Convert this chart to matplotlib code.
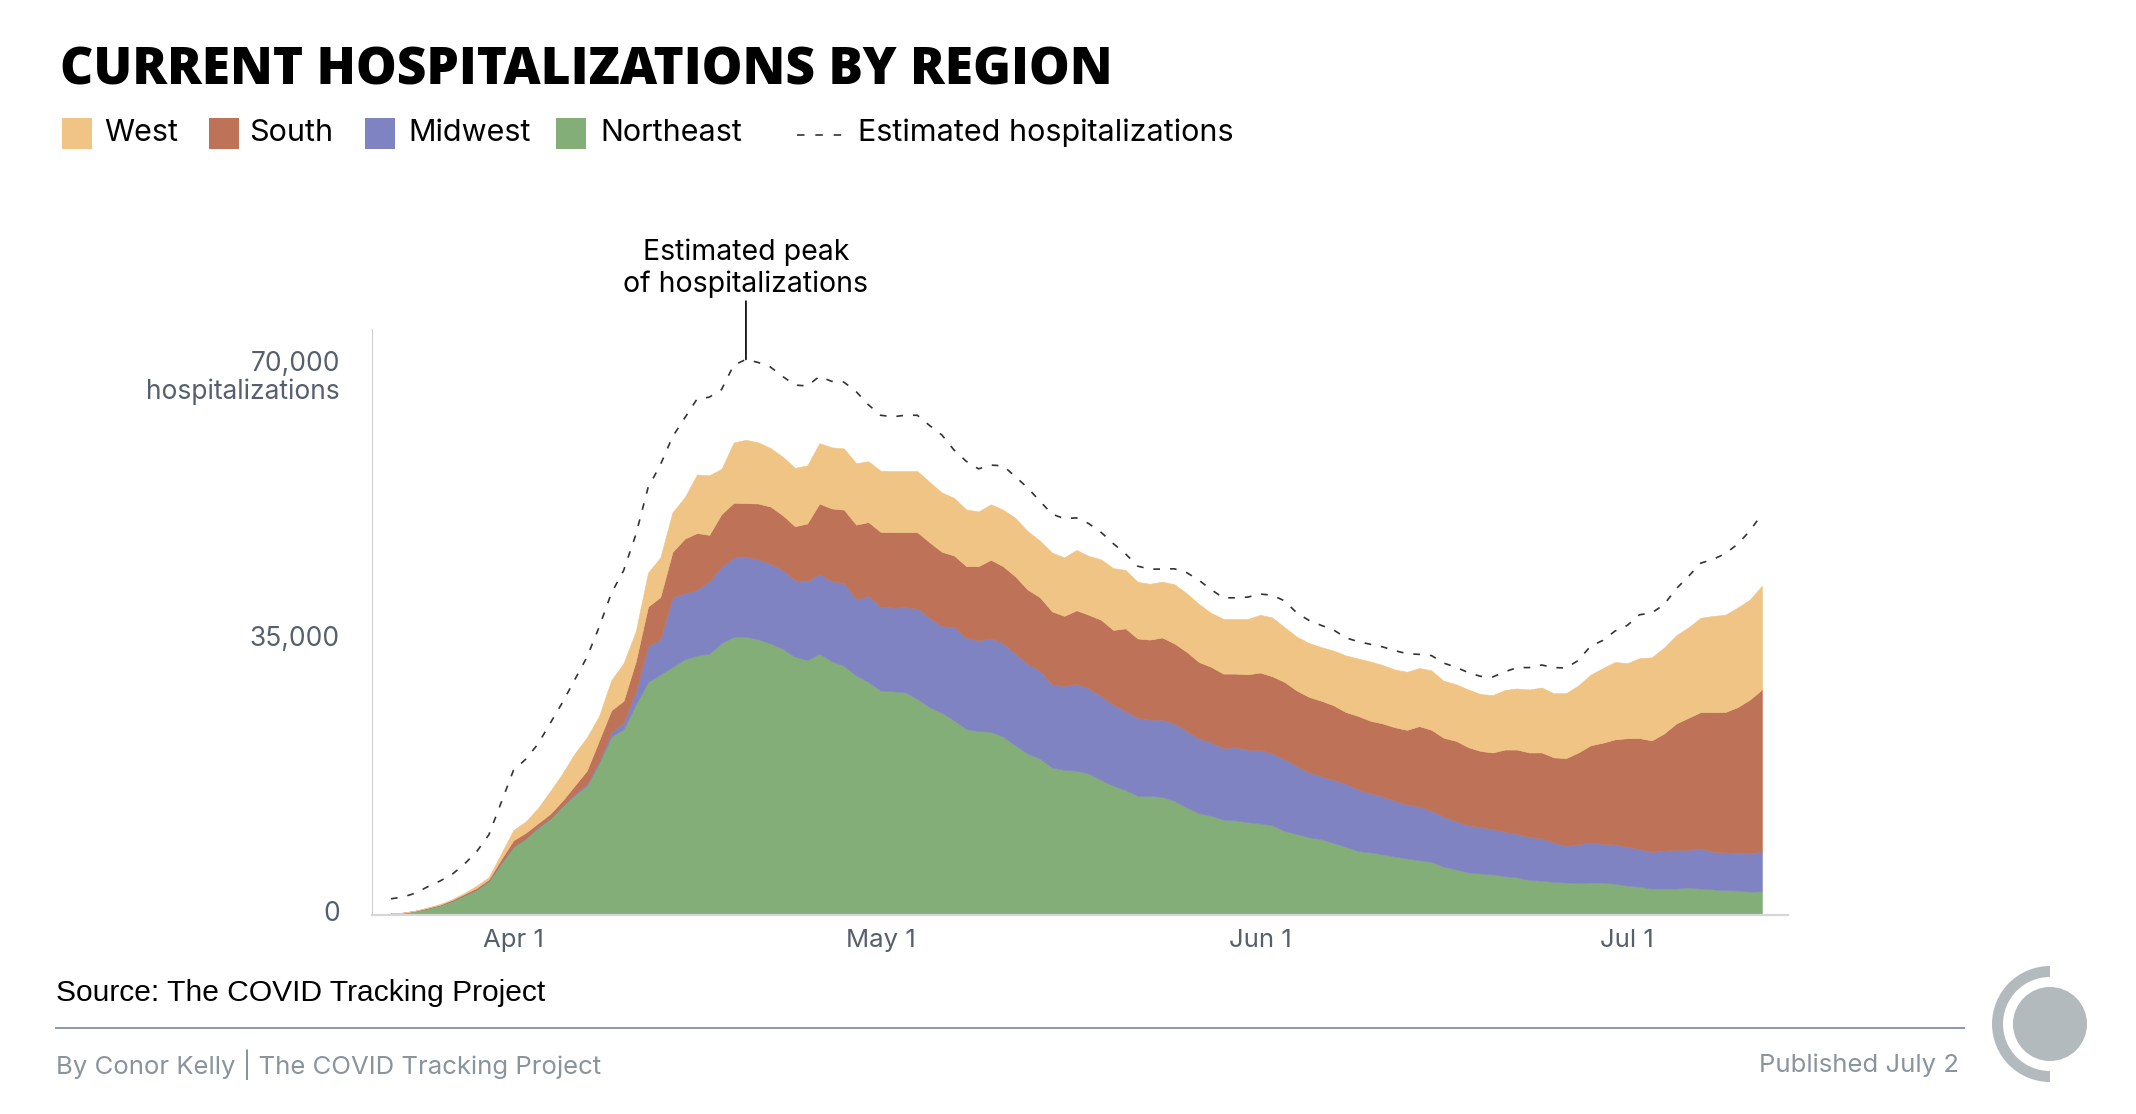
import datetime as dt

import matplotlib
matplotlib.use("Agg")
import matplotlib.dates as mdates
import matplotlib.pyplot as plt
import numpy as np
from matplotlib.lines import Line2D
from matplotlib.patches import Circle, Rectangle, Wedge
from matplotlib.transforms import IdentityTransform, ScaledTranslation, blended_transform_factory

# ---- data (daily from Mar 22) ----
start_date = dt.date(2020, 3, 22)

northeast = [
    240, 290, 530, 860, 1250, 1820, 2540, 3260, 4370, 6620,
    8690, 9740, 11090, 12240, 13820, 15260, 16460, 19340, 22700, 23660,
    26780, 29660, 30620, 31580, 32540, 33020, 33260, 34610, 35420, 35420,
    35090, 34560, 33890, 32880, 32450, 33260, 32300, 31730, 30480, 29660,
    28560, 28460, 28370, 27500, 26450, 25730, 24770, 23660, 23420, 23330,
    22700, 21600, 20540, 19920, 18770, 18480, 18380, 18000, 17180, 16460,
    15890, 15170, 15170, 15020, 14540, 13680, 12960, 12620, 12140, 12050,
    11810, 11660, 11420, 10700, 10320, 9890, 9650, 9170, 8690, 8160,
    7970, 7730, 7440, 7200, 6960, 6770, 6140, 5810, 5420, 5280,
    5180, 4940, 4800, 4460, 4370, 4220, 4130, 4080, 4130, 4130,
    3980, 3740, 3600, 3360, 3360, 3360, 3500, 3360, 3260, 3170,
    3120, 2980, 3020,
]
midwest = [
    0, 0, 0, 0, 0, 0, 0, 0, 50, 50,
    50, 50, 100, 100, 140, 140, 240, 240, 580, 860,
    1680, 4560, 4460, 8880, 8400, 8400, 9220, 9700, 10080, 10180,
    10180, 10130, 10030, 9740, 10030, 10180, 10180, 10510, 9740, 10940,
    10700, 10660, 10800, 11520, 11380, 11040, 11860, 11620, 11520, 11900,
    11900, 11660, 11420, 11180, 10560, 10660, 11040, 10850, 10700, 10320,
    10080, 9940, 9700, 9840, 9840, 9740, 9500, 9360, 9120, 9310,
    9220, 9360, 9120, 9120, 8640, 8260, 8020, 8020, 8020, 7820,
    7540, 7390, 7100, 6860, 6860, 6480, 6380, 6140, 6000, 5900,
    5760, 5660, 5520, 5470, 5380, 5040, 4660, 4940, 5090, 4940,
    4990, 4940, 4800, 4660, 4850, 4940, 4800, 5090, 4800, 4800,
    4800, 4850, 5040,
]
south = [
    0, 0, 0, 50, 50, 100, 140, 190, 140, 430,
    770, 670, 480, 530, 580, 1060, 1680, 2640, 2780, 2740,
    3840, 5040, 5380, 5760, 6960, 7200, 5900, 6720, 6960, 6820,
    7100, 7300, 6960, 6860, 7340, 8930, 9260, 9360, 9460, 9410,
    9500, 9600, 9550, 9700, 9600, 9460, 9120, 9120, 9460, 9980,
    9790, 9840, 9460, 9360, 9310, 8930, 9360, 9360, 9700, 9500,
    10510, 10080, 10180, 10460, 10180, 10080, 9740, 9600, 9460, 9360,
    9600, 9840, 9840, 9840, 9600, 9600, 9600, 9500, 9120, 9360,
    9220, 9260, 9360, 9500, 10220, 10320, 10030, 10220, 9940, 9700,
    9740, 10460, 10730, 10750, 10940, 10800, 11180, 11660, 12380, 12860,
    13390, 13820, 14110, 14210, 14880, 16080, 16800, 17380, 17760, 17860,
    18530, 19580, 20640,
]
west = [
    0, 0, 50, 50, 100, 100, 140, 290, 290, 720,
    1300, 1440, 1920, 2880, 3460, 4080, 4220, 3120, 3840, 4800,
    3840, 4320, 5040, 5040, 5280, 7440, 7580, 5760, 7680, 8060,
    7780, 7440, 7440, 7440, 7390, 7680, 7780, 7780, 7820, 7730,
    7780, 7780, 7780, 7780, 7680, 7540, 7340, 7200, 6960, 7060,
    7200, 7440, 7440, 7200, 7490, 7440, 7680, 7490, 7680, 7870,
    7440, 7200, 7100, 7100, 7540, 7440, 7390, 6860, 6960, 6960,
    7060, 7340, 7490, 6960, 6860, 6860, 6820, 6960, 7200, 7300,
    7540, 7440, 7340, 7390, 7390, 7560, 7250, 7200, 7340, 7250,
    7300, 7580, 7780, 8020, 8260, 8160, 8260, 8540, 8980, 9500,
    9840, 9550, 10180, 10560, 10940, 11230, 11520, 12000, 12240, 12380,
    12670, 12720, 13200,
]
estimated = [
    2060, 2300, 2780, 3600, 4320, 5180, 6480, 8060, 10220, 14300,
    18380, 19820, 21740, 24380, 27020, 29900, 32780, 36620, 40940, 43820,
    48380, 54380, 57260, 60860, 63260, 65660, 65900, 66860, 69980, 70700,
    70320, 69740, 68540, 67440, 67340, 68540, 67920, 67820, 66620, 64940,
    63600, 63410, 63600, 63600, 62300, 61100, 59180, 57740, 56780, 57260,
    57170, 55820, 54380, 52700, 51020, 50450, 50540, 49820, 48720, 47280,
    45980, 44400, 44020, 44020, 44060, 43580, 42620, 41420, 40370, 40370,
    40460, 40850, 40700, 39980, 38450, 37490, 36860, 36290, 35280, 34800,
    34460, 34130, 33650, 33260, 33170, 33020, 32060, 31540, 30860, 30380,
    30290, 30960, 31490, 31490, 31820, 31490, 31440, 32400, 34220, 34940,
    36140, 36860, 38210, 38450, 39500, 41520, 43100, 44780, 45260, 45980,
    47180, 48860, 51020,
]

region_names = ["Northeast", "Midwest", "South", "West"]
region_colors = ["#84ae78", "#8083c2", "#be7257", "#f0c484"]
ytick_values = [0, 35000, 70000]
xtick_dates = [dt.date(2020, 4, 1), dt.date(2020, 5, 1), dt.date(2020, 6, 1), dt.date(2020, 7, 1)]
xtick_labels = ["Apr 1", "May 1", "Jun 1", "Jul 1"]
legend_order = ["West", "South", "Midwest", "Northeast"]

# ---- figure ----
W, H = 2136, 1114
plt.rcParams["font.family"] = ["Inter", "DejaVu Sans"]
fig = plt.figure(figsize=(W / 100, H / 100), dpi=100)
fig.patch.set_facecolor("white")


def fx(x):
    return x / W


def fy(y):
    return 1 - y / H


ax = fig.add_axes([fx(372), fy(915), (1788 - 372) / W, (915 - 329) / H])

dates = [start_date + dt.timedelta(days=i) for i in range(len(northeast))]
x = mdates.date2num(dates)

polys = ax.stackplot(x, northeast, midwest, south, west, colors=region_colors, linewidth=0)
for p, c in zip(polys, region_colors):
    p.set_edgecolor(c)
    p.set_linewidth(0.4)

ax.plot(x, estimated, color="#333333", lw=1.2, dashes=(4, 6))

ax.set_xlim(x[0] - 1.55, x[0] + 114.13)
ax.set_ylim(0, 74580)

for side in ["top", "right"]:
    ax.spines[side].set_visible(False)
ax.spines["left"].set_color("#cfcfcf")
ax.spines["left"].set_linewidth(0.8)
ax.spines["bottom"].set_color("#d6d6d6")
ax.spines["bottom"].set_linewidth(1.6)
ax.spines["bottom"].set_zorder(5)

ax.set_xticks(mdates.date2num(xtick_dates))
ax.set_xticklabels(xtick_labels, fontsize=18.5, color="#56606c")
ax.tick_params(axis="x", length=0, pad=10)
ax.set_yticks([])

# y labels, sitting a touch above their value like the original
ytrans = blended_transform_factory(ax.transAxes, ax.transData)
for v in ytick_values:
    ax.text(-0.0226, v, f"{v:,}", transform=ytrans + ScaledTranslation(0, 1 / 100, fig.dpi_scale_trans),
            ha="right", va="center", fontsize=19, color="#56606c")
ax.text(-0.0226, ytick_values[-1], "hospitalizations",
        transform=ytrans + ScaledTranslation(0, -27 / 100, fig.dpi_scale_trans),
        ha="right", va="center", fontsize=19, color="#56606c")

# peak annotation
ipk = int(np.argmax(estimated))
ax.annotate("", xy=(x[ipk], estimated[ipk]), xytext=(0, 42), textcoords="offset points",
            arrowprops=dict(arrowstyle="-", lw=1.2, color="black", shrinkA=0, shrinkB=0),
            annotation_clip=False)
ax.annotate("Estimated peak\nof hospitalizations", xy=(x[ipk], estimated[ipk]), xytext=(0, 65.5),
            textcoords="offset points", ha="center", va="center", fontsize=20.5,
            linespacing=1.2, color="black", annotation_clip=False)

# ---- title and legend ----
fig.text(fx(60), fy(71), "CURRENT HOSPITALIZATIONS BY REGION", fontsize=37,
         family=["Open Sans", "DejaVu Sans"], weight=800, va="center", ha="left", color="black")

sq_left = [62, 209, 365, 556]
txt_left = [104, 249, 408, 600]
for name, sx, tx in zip(legend_order, sq_left, txt_left):
    col = region_colors[region_names.index(name)]
    fig.patches.append(Rectangle((fx(sx), fy(149)), 30 / W, 31 / H, transform=fig.transFigure,
                                 facecolor=col, edgecolor="none"))
    fig.text(fx(tx), fy(133), name, fontsize=22, va="center", ha="left", color="black")
fig.lines.append(Line2D([fx(797), fx(848)], [fy(135), fy(135)], transform=fig.transFigure,
                        color="#333333", lw=1.2, dashes=(4.5, 6.5)))
fig.text(fx(858), fy(133), "Estimated hospitalizations", fontsize=22, va="center", ha="left", color="black")

# ---- footer ----
fig.text(fx(56), fy(993), "Source: The COVID Tracking Project", fontsize=21.6,
         family=["Liberation Sans", "DejaVu Sans"], va="center", ha="left", color="black")
fig.lines.append(Line2D([fx(56), fx(1964)], [fy(1028), fy(1028)], transform=fig.transFigure,
                        color="#8c99ab", lw=1.4))
fig.text(fx(56), fy(1065), "By Conor Kelly | The COVID Tracking Project", fontsize=18.5,
         va="center", ha="left", color="#8a949c")
fig.text(fx(1959), fy(1065), "Published July 2", fontsize=18.5,
         va="center", ha="right", color="#8a949c")

# logo
logo_c = (2050, H - 1024)
fig.add_artist(Wedge(logo_c, 58, 90, 270, width=11, transform=IdentityTransform(),
                     facecolor="#b3babe", edgecolor="none"))
fig.add_artist(Circle(logo_c, 37, transform=IdentityTransform(), facecolor="#b3babe", edgecolor="none"))

fig.savefig("out.png", dpi=100)
